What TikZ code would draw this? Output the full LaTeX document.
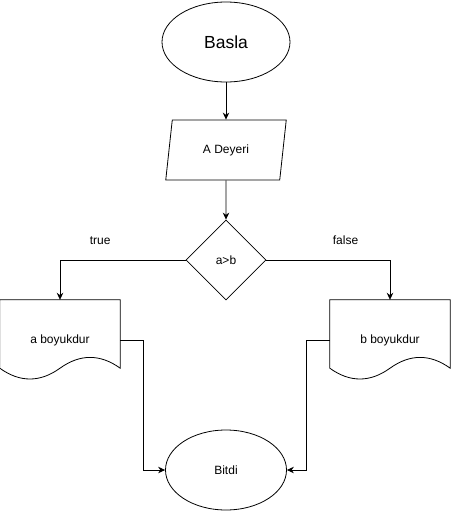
\documentclass[tikz,border=0pt]{standalone}
\usepackage{fontspec}
\setmainfont{Liberation Sans}
\usetikzlibrary{positioning, arrows.meta, shapes.geometric, calc}

% wavy outline of a document box
\newcommand{\docoutline}[1]{%
  \draw[line width=0.8pt] (#1.north west) -- (#1.north east)
    -- ([shift={(0,-12)}]#1.south east)
    .. controls ([shift={(-20,-26.4)}]#1.south east) and ([shift={(20,-26.4)}]#1.south) .. ([shift={(0,-12)}]#1.south)
    .. controls ([shift={(-20,2.4)}]#1.south) and ([shift={(20,2.4)}]#1.south west) .. ([shift={(0,-12)}]#1.south west)
    -- cycle;}

\begin{document}
\begin{tikzpicture}[x=1pt, y=-1pt,
  term/.style={ellipse, draw, line width=0.8pt, minimum width=128pt,
               minimum height=80pt, inner sep=0pt, font=\fontsize{12}{14}\selectfont},
  io/.style={trapezium, trapezium left angle=76, trapezium right angle=104,
             trapezium stretches=true, draw, line width=0.8pt, minimum width=121pt,
             minimum height=60pt, inner sep=0pt, font=\fontsize{12}{14}\selectfont},
  cond/.style={diamond, aspect=1, draw, line width=0.8pt, minimum width=80pt,
               minimum height=80pt, inner sep=0pt, font=\fontsize{12}{14}\selectfont},
  doc/.style={minimum width=120pt, minimum height=80pt, inner sep=0pt,
              font=\fontsize{12}{14}\selectfont},
  arr/.style={->, >={Stealth[length=7pt, width=6.5pt]}, line width=0.8pt},
  lbl/.style={font=\fontsize{12}{14}\selectfont},
]
  \useasboundingbox (0,0) rectangle (451,512);

  \node[term, font=\fontsize{17.5}{20}\selectfont] (start) at (226,42) {Basla};
  \node[io] (input) at (226,150) {A Deyeri};
  \node[cond] (test) at (226,260) {a>b};
  \node[doc] (adoc) at (60,340) {a boyukdur};
  \node[doc] (bdoc) at (390,340) {b boyukdur};
  \node[term, minimum width=121pt] (stop) at (226,470) {Bitdi};
  \docoutline{adoc}
  \docoutline{bdoc}

  \draw[arr] (start) -- (input);
  \draw[arr] (input) -- (test);
  \draw[arr] (test.west) -| (adoc.north) node[lbl, pos=0.34, above=12pt] {true};
  \draw[arr] (test.east) -| (bdoc.north) node[lbl, pos=0.32, above=12pt] {false};
  \draw[arr] (adoc.east) -- ++(23,0) |- (stop);
  \draw[arr] (bdoc.west) -- ++(-23,0) |- (stop);
\end{tikzpicture}
\end{document}
